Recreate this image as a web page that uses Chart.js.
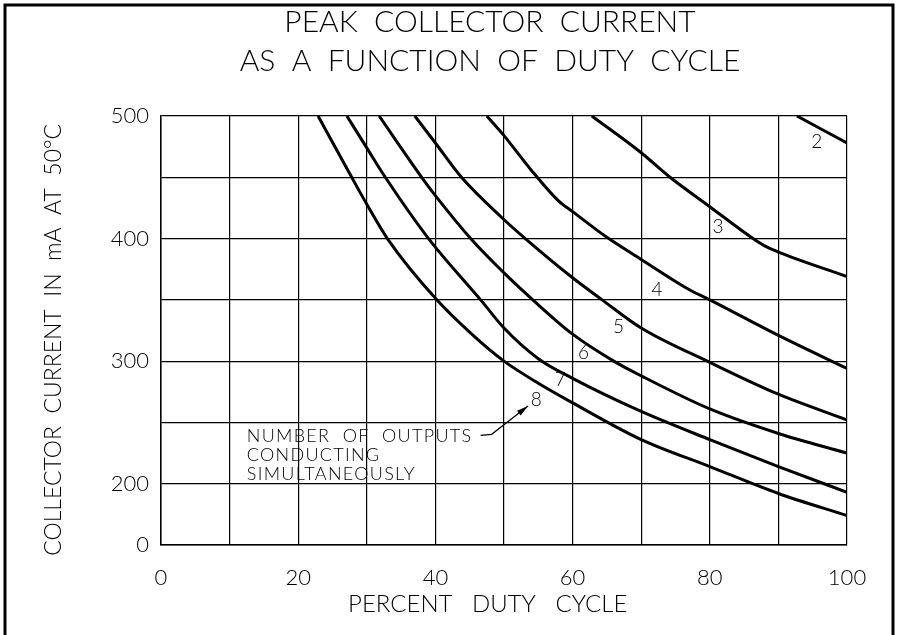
<!DOCTYPE html>
<html>
<head>
<meta charset="utf-8">
<script src="https://cdn.jsdelivr.net/npm/chart.js@4.4.1/dist/chart.umd.min.js"></script>
<style>
  html, body { margin: 0; padding: 0; background: #fff; }
  #wrap { width: 899px; height: 635px; }
</style>
</head>
<body>
<div id="wrap"><canvas id="dutyChart" width="899" height="635"></canvas></div>
<script>
// curves (x = % duty cycle, y = mA)
const dutyCycle2 = [92.7, 100];
const current2 = [500, 478];

const dutyCycle3 = [62.8, 70, 74.2, 80, 86.3, 88, 90, 100];
const current3 = [500, 470, 450, 426, 400, 394, 389, 369];

const dutyCycle4 = [47.5, 50, 53.8, 57.9, 60, 65, 70, 77.1, 80, 90, 100];
const current4 = [500, 484, 457, 431, 422, 401, 383, 358, 350, 321, 294];

const dutyCycle5 = [37, 40, 43.8, 49.7, 53.1, 60, 64.3, 70, 80, 90, 100];
const current5 = [500, 478, 450, 417, 400, 368, 350, 327, 299, 273, 252];

const dutyCycle6 = [31.8, 38, 40, 45.3, 50, 54.2, 60, 66, 70, 80, 90, 100];
const current6 = [500, 450, 435, 399, 372, 350, 322, 300, 288, 261, 241, 225];

const dutyCycle7 = [27.1, 30, 32.7, 39, 46.6, 50, 55, 60, 70, 80, 90, 100];
const current7 = [500, 474, 450, 400, 350, 327, 302, 286, 259, 236, 214, 193];

const dutyCycle8 = [22.9, 27.8, 30, 33, 40.2, 45.5, 50, 55, 60, 70, 80, 90, 100];
const current8 = [500, 450, 428, 400, 350, 321, 300, 282, 266, 236, 214, 192, 174];

const outputs = ['2', '3', '4', '5', '6', '7', '8'];
const xTickLabels = ['0', '20', '40', '60', '80', '100'];
// the bottom gridline (150 mA) is labelled "0" on the original, axis is broken
const yTickLabels = { 150: '0', 200: '200', 300: '300', 400: '400', 500: '500' };

// where the curve numbers sit, in chart units
const labelSpots = {
    '2': [95.6, 478.5], '3': [81.2, 409.7], '4': [72.3, 358], '5': [66.7, 328],
    '6': [61.6, 306.4], '7': [58.2, 284.6], '8': [54.7, 268.3]
};
const noteLines = ['NUMBER  OF  OUTPUTS', 'CONDUCTING', 'SIMULTANEOUSLY'];

const FONT = 'Lato, "DejaVu Sans", sans-serif';

const curves = [
    [dutyCycle2, current2], [dutyCycle3, current3], [dutyCycle4, current4],
    [dutyCycle5, current5], [dutyCycle6, current6], [dutyCycle7, current7],
    [dutyCycle8, current8]
];

const datasets = curves.map(([xs, ys], i) => ({
    label: outputs[i],
    data: xs.map((x, j) => ({ x: x, y: ys[j] })),
    borderColor: '#000',
    borderWidth: 3,
    pointRadius: 0,
    fill: false,
    cubicInterpolationMode: 'monotone'
}));

// curve numbers, the note and its arrow
const annotations = {
    id: 'annotations',
    afterDatasetsDraw(chart) {
        const { ctx, scales: { x, y } } = chart;
        ctx.save();
        ctx.fillStyle = '#000';
        ctx.font = '300 19px ' + FONT;
        ctx.textAlign = 'center';
        ctx.textBaseline = 'middle';
        outputs.forEach(n => {
            const [vx, vy] = labelSpots[n];
            ctx.fillText(n, x.getPixelForValue(vx), y.getPixelForValue(vy));
        });

        ctx.textAlign = 'left';
        ctx.font = '300 18px ' + FONT;
        ctx.letterSpacing = '1.3px';
        noteLines.forEach((line, i) => {
            ctx.fillText(line, x.getPixelForValue(12.5), y.getPixelForValue(238.6 - i * 15.5));
        });

        const p0 = [x.getPixelForValue(46.6), y.getPixelForValue(239.4)];
        const p1 = [x.getPixelForValue(48.2), y.getPixelForValue(240.3)];
        const tip = [x.getPixelForValue(53.5), y.getPixelForValue(263.4)];
        ctx.strokeStyle = '#000';
        ctx.lineWidth = 1.2;
        ctx.beginPath();
        ctx.moveTo(p0[0], p0[1]);
        ctx.lineTo(p1[0], p1[1]);
        ctx.lineTo(tip[0], tip[1]);
        ctx.stroke();
        const ang = Math.atan2(tip[1] - p1[1], tip[0] - p1[0]);
        ctx.beginPath();
        ctx.moveTo(tip[0], tip[1]);
        ctx.lineTo(tip[0] - 12 * Math.cos(ang - 0.25), tip[1] - 12 * Math.sin(ang - 0.25));
        ctx.lineTo(tip[0] - 12 * Math.cos(ang + 0.25), tip[1] - 12 * Math.sin(ang + 0.25));
        ctx.closePath();
        ctx.fill();
        ctx.restore();
    }
};

// white page and the drawing frame
const sheet = {
    id: 'sheet',
    beforeDraw(chart) {
        const ctx = chart.ctx;
        ctx.save();
        ctx.fillStyle = '#fff';
        ctx.fillRect(0, 0, chart.width, chart.height);
        ctx.restore();
    },
    afterDraw(chart) {
        const ctx = chart.ctx;
        ctx.save();
        ctx.strokeStyle = '#000';
        ctx.lineWidth = 3;
        ctx.beginPath();
        ctx.moveTo(5, chart.height + 5);
        ctx.lineTo(5, 5);
        ctx.lineTo(chart.width - 6, 5);
        ctx.lineTo(chart.width - 6, chart.height + 5);
        ctx.stroke();
        ctx.restore();
    }
};

new Chart(document.getElementById('dutyChart'), {
    type: 'line',
    data: { datasets: datasets },
    plugins: [sheet, annotations],
    options: {
        responsive: false,
        animation: false,
        layout: { padding: { left: 81, right: 0, top: 0, bottom: 0 } },
        plugins: {
            legend: { display: false },
            tooltip: { enabled: false },
            title: {
                display: true,
                text: ['PEAK  COLLECTOR  CURRENT', 'AS  A  FUNCTION  OF  DUTY  CYCLE'],
                color: '#000',
                font: { family: FONT, size: 30, weight: '300', lineHeight: 1.3 },
                padding: { top: 3, bottom: 35 }
            }
        },
        scales: {
            x: {
                type: 'linear',
                min: 0,
                max: 100,
                border: { color: '#000', width: 1.5 },
                grid: { color: '#000', lineWidth: 1.2, drawTicks: false },
                ticks: {
                    stepSize: 10,
                    padding: 20,
                    color: '#000',
                    font: { family: FONT, size: 22, weight: '300' },
                    maxRotation: 0,
                    callback: v => xTickLabels.includes(String(v)) ? String(v) : ''
                },
                title: {
                    display: true,
                    text: 'PERCENT   DUTY   CYCLE     ',
                    color: '#000',
                    font: { family: FONT, size: 24, weight: '300', lineHeight: 1.2 },
                    padding: { top: 0, bottom: 16 }
                },
                afterFit: s => { s.height = 90; }
            },
            y: {
                type: 'linear',
                min: 150,
                max: 500,
                border: { color: '#000', width: 1.5 },
                grid: { color: '#000', lineWidth: 1.2, drawTicks: false },
                ticks: {
                    stepSize: 50,
                    padding: 12,
                    color: '#000',
                    font: { family: FONT, size: 22, weight: '300' },
                    callback: v => yTickLabels[v] || ''
                },
                title: {
                    display: true,
                    text: 'COLLECTOR  CURRENT  IN  mA  AT  50°C   ',
                    color: '#000',
                    font: { family: FONT, size: 23, weight: '300', lineHeight: 1.2 },
                    padding: { top: -41, bottom: 0 }
                },
                afterFit: s => { s.width = 80; }
            },
            yRight: {
                type: 'linear',
                position: 'right',
                display: true,
                grid: { display: false, drawTicks: false },
                border: { display: false },
                ticks: { display: false },
                afterFit: s => { s.width = 52; }
            }
        }
    }
});
</script>
</body>
</html>
